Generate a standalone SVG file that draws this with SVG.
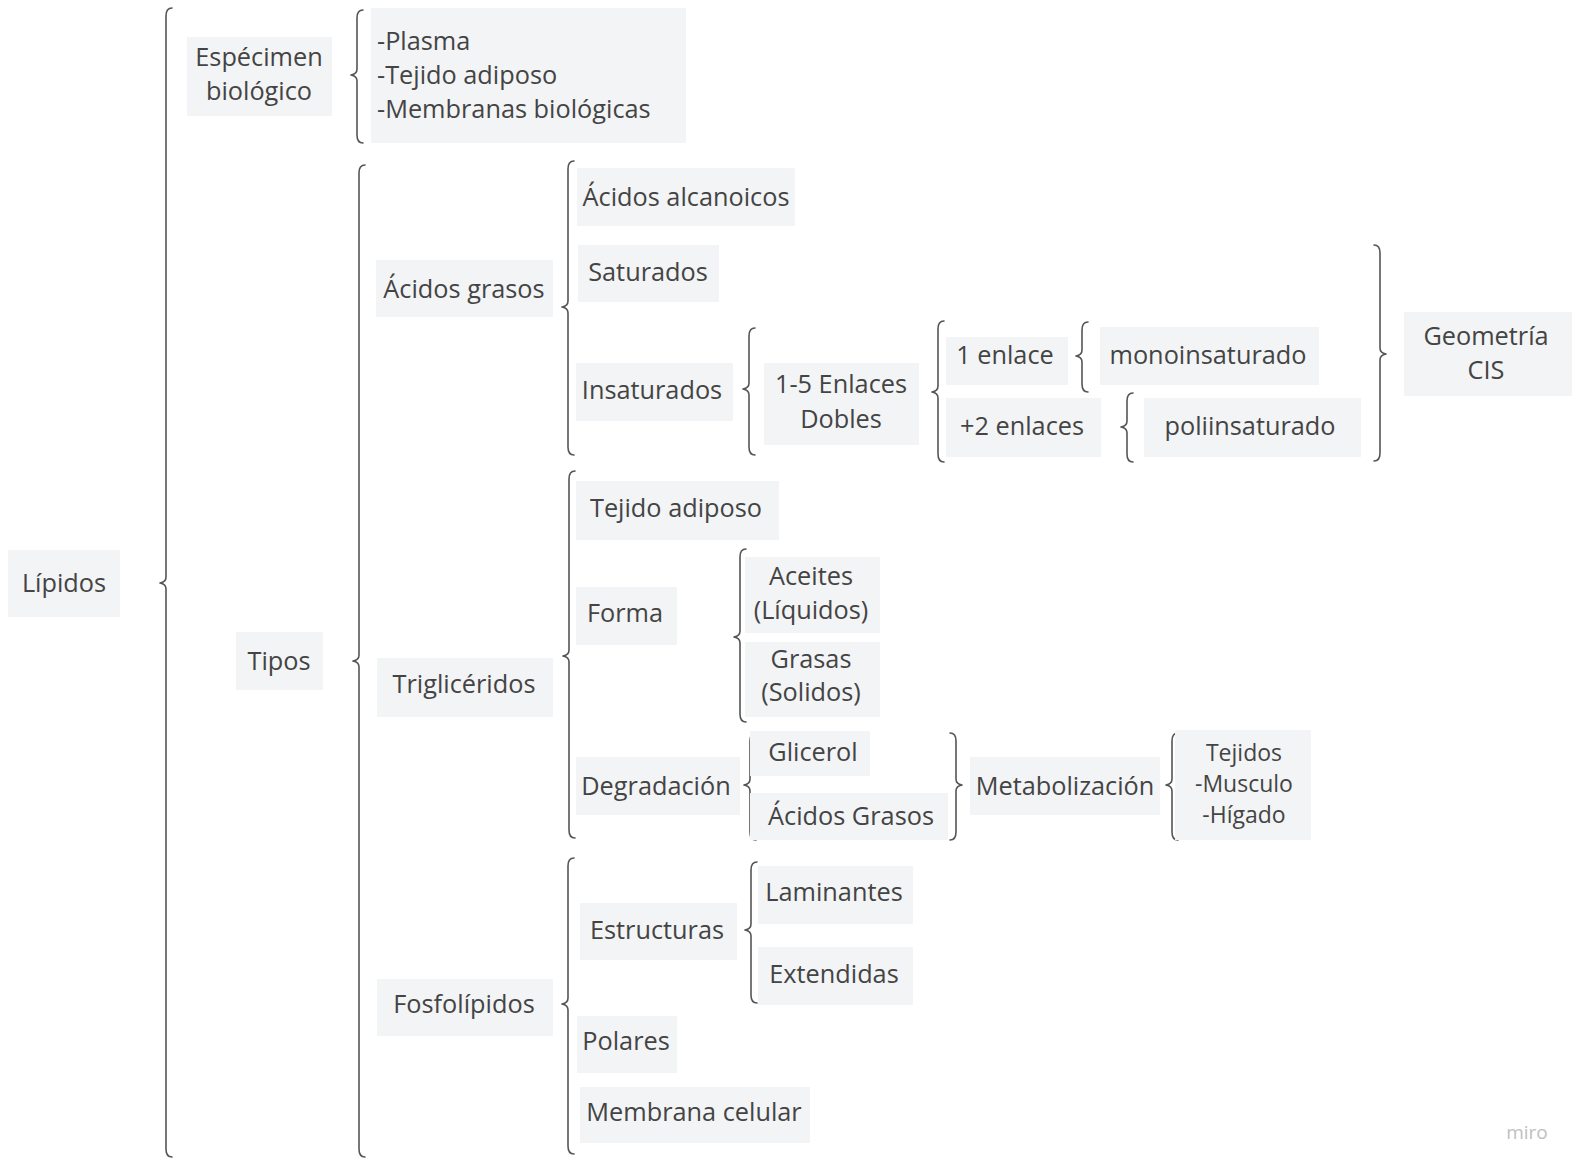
<svg xmlns="http://www.w3.org/2000/svg" width="1572" height="1161" viewBox="0 0 1572 1161">
<style>
.box{fill:#f3f4f6}
text{font-family:"Open Sans","Noto Sans","Liberation Sans",sans-serif;font-size:25.3px;fill:#444}
.c{text-anchor:middle}
.sm{font-size:23px}
.br{fill:none;stroke:#555;stroke-width:1.6;stroke-linejoin:round;stroke-linecap:round}
.miro{font-size:19px;fill:#c0c0c0;font-weight:500}
</style>
<rect width="1572" height="1161" fill="#ffffff"/>
<g id="connectors">
<path class="br" d="M172 8 Q166 8 166 16 L166 577 Q166 582 160 583 Q166 584 166 589 L166 1149 Q166 1157 172 1157"/>
<path class="br" d="M363 10 Q357 10 357 18 L357 69 Q357 74 351 75 Q357 76 357 81 L357 135 Q357 143 363 143"/>
<path class="br" d="M365 165 Q359 165 359 173 L359 655 Q359 660 353 661 Q359 662 359 667 L359 1149 Q359 1157 365 1157"/>
<path class="br" d="M574 161 Q568 161 568 169 L568 301 Q568 306 562 307 Q568 308 568 313 L568 447 Q568 455 574 455"/>
<path class="br" d="M755 328 Q749 328 749 336 L749 383 Q749 388 743 389 Q749 390 749 395 L749 447 Q749 455 755 455"/>
<path class="br" d="M944 321 Q938 321 938 329 L938 386 Q938 391 932 392 Q938 393 938 398 L938 454 Q938 462 944 462"/>
<path class="br" d="M1088 322 Q1082 322 1082 330 L1082 350 Q1082 355 1076 356 Q1082 357 1082 362 L1082 384 Q1082 392 1088 392"/>
<path class="br" d="M1133 393 Q1127 393 1127 401 L1127 421 Q1127 426 1121 427 Q1127 428 1127 433 L1127 454 Q1127 462 1133 462"/>
<path class="br" d="M1374 245 Q1380 245 1380 253 L1380 348 Q1380 353 1386 354 Q1380 355 1380 360 L1380 453 Q1380 461 1374 461"/>
<path class="br" d="M575 471 Q569 471 569 479 L569 650 Q569 655 563 656 Q569 657 569 662 L569 830 Q569 838 575 838"/>
<path class="br" d="M746 549 Q740 549 740 557 L740 631 Q740 636 734 637 Q740 638 740 643 L740 714 Q740 722 746 722"/>
<path class="br" d="M756 733 Q750 733 750 741 L750 779 Q750 784 744 785 Q750 786 750 791 L750 832 Q750 840 756 840"/>
<path class="br" d="M950 733 Q956 733 956 741 L956 779 Q956 784 962 785 Q956 786 956 791 L956 832 Q956 840 950 840"/>
<path class="br" d="M1178 733 Q1172 733 1172 741 L1172 779 Q1172 784 1166 785 Q1172 786 1172 791 L1172 832 Q1172 840 1178 840"/>
<path class="br" d="M574 858 Q568 858 568 866 L568 998 Q568 1003 562 1004 Q568 1005 568 1010 L568 1146 Q568 1154 574 1154"/>
<path class="br" d="M757 862 Q751 862 751 870 L751 924 Q751 929 745 930 Q751 931 751 936 L751 995 Q751 1003 757 1003"/>
</g>
<g id="n-lipidos"><rect class="box" x="8" y="550" width="112" height="67"/><text class="c" x="64" y="592">Lípidos</text></g>
<g id="n-especimen"><rect class="box" x="187" y="37" width="145" height="79"/><text class="c" x="259" y="66">Espécimen</text><text class="c" x="259" y="100">biológico</text></g>
<g id="n-lista"><rect class="box" x="371" y="8" width="315" height="135"/><text x="377" y="50">-Plasma</text><text x="377" y="84">-Tejido adiposo</text><text x="377" y="118">-Membranas biológicas</text></g>
<g id="n-tipos"><rect class="box" x="236" y="632" width="87" height="58"/><text class="c" x="279" y="670">Tipos</text></g>
<g id="n-acidos-grasos"><rect class="box" x="376" y="260" width="177" height="57"/><text class="c" x="464" y="298">Ácidos grasos</text></g>
<g id="n-alcanoicos"><rect class="box" x="577" y="168" width="218" height="58"/><text class="c" x="686" y="206">Ácidos alcanoicos</text></g>
<g id="n-saturados"><rect class="box" x="578" y="245" width="141" height="57"/><text class="c" x="648" y="281">Saturados</text></g>
<g id="n-insaturados"><rect class="box" x="576" y="363" width="157" height="58"/><text class="c" x="652" y="399">Insaturados</text></g>
<g id="n-enlaces"><rect class="box" x="764" y="363" width="155" height="82"/><text class="c" x="841" y="393">1-5 Enlaces</text><text class="c" x="841" y="428">Dobles</text></g>
<g id="n-1enlace"><rect class="box" x="946" y="337" width="122" height="48"/><text class="c" x="1005" y="364">1 enlace</text></g>
<g id="n-2enlaces"><rect class="box" x="946" y="398" width="155" height="59"/><text class="c" x="1022" y="435">+2 enlaces</text></g>
<g id="n-mono"><rect class="box" x="1100" y="327" width="219" height="58"/><text class="c" x="1208" y="364">monoinsaturado</text></g>
<g id="n-poli"><rect class="box" x="1144" y="398" width="217" height="59"/><text class="c" x="1250" y="435">poliinsaturado</text></g>
<g id="n-geometria"><rect class="box" x="1404" y="312" width="168" height="84"/><text class="c" x="1486" y="345">Geometría</text><text class="c" x="1486" y="379">CIS</text></g>
<g id="n-trigliceridos"><rect class="box" x="377" y="658" width="176" height="59"/><text class="c" x="464" y="693">Triglicéridos</text></g>
<g id="n-tejido"><rect class="box" x="576" y="481" width="203" height="59"/><text class="c" x="676" y="517">Tejido adiposo</text></g>
<g id="n-forma"><rect class="box" x="576" y="587" width="101" height="58"/><text class="c" x="625" y="622">Forma</text></g>
<g id="n-aceites"><rect class="box" x="745" y="557" width="135" height="76"/><text class="c" x="811" y="585">Aceites</text><text class="c" x="811" y="619">(Líquidos)</text></g>
<g id="n-grasas"><rect class="box" x="745" y="642" width="135" height="75"/><text class="c" x="811" y="668">Grasas</text><text class="c" x="811" y="701">(Solidos)</text></g>
<g id="n-degradacion"><rect class="box" x="576" y="757" width="164" height="58"/><text class="c" x="656" y="795">Degradación</text></g>
<g id="n-glicerol"><rect class="box" x="750" y="731" width="120" height="45"/><text class="c" x="813" y="761">Glicerol</text></g>
<g id="n-acidos-grasos2"><rect class="box" x="750" y="793" width="198" height="47"/><text class="c" x="851" y="825">Ácidos Grasos</text></g>
<g id="n-metabolizacion"><rect class="box" x="970" y="757" width="190" height="58"/><text class="c" x="1065" y="795">Metabolización</text></g>
<g id="n-tejidos"><rect class="box" x="1175" y="730" width="136" height="110"/><text class="c sm" x="1244" y="761">Tejidos</text><text class="c sm" x="1244" y="792">-Musculo</text><text class="c sm" x="1244" y="823">-Hígado</text></g>
<g id="n-fosfolipidos"><rect class="box" x="377" y="979" width="176" height="57"/><text class="c" x="464" y="1013">Fosfolípidos</text></g>
<g id="n-estructuras"><rect class="box" x="580" y="903" width="157" height="57"/><text class="c" x="657" y="939">Estructuras</text></g>
<g id="n-laminantes"><rect class="box" x="758" y="866" width="155" height="58"/><text class="c" x="834" y="901">Laminantes</text></g>
<g id="n-extendidas"><rect class="box" x="758" y="947" width="155" height="58"/><text class="c" x="834" y="983">Extendidas</text></g>
<g id="n-polares"><rect class="box" x="577" y="1016" width="100" height="57"/><text class="c" x="626" y="1050">Polares</text></g>
<g id="n-membrana"><rect class="box" x="580" y="1087" width="230" height="56"/><text class="c" x="694" y="1121">Membrana celular</text></g>
<text class="miro c" x="1527" y="1139">miro</text>
</svg>
